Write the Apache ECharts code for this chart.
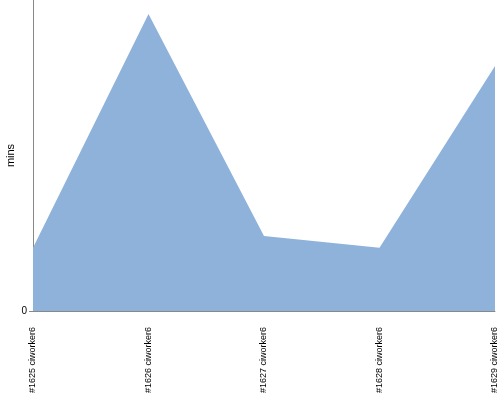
<!DOCTYPE html>
<html><head><meta charset="utf-8">
<script src="https://cdn.jsdelivr.net/npm/echarts@6/dist/echarts.min.js"></script>
<style>html,body{margin:0;padding:0;background:#fff}#c{width:500px;height:400px}</style>
</head><body><div id="c"></div>
<script>
var categories = ['#1625 ciworker6', '#1626 ciworker6', '#1627 ciworker6', '#1628 ciworker6', '#1629 ciworker6'];
var minsValues = [2.03, 9.55, 2.41, 2.03, 7.88];
var chart = echarts.init(document.getElementById('c'), null, {renderer: 'canvas'});
chart.setOption({
  animation: false,
  grid: {left: 33, right: 5, top: 0, bottom: 89, containLabel: false, outerBoundsMode: 'none'},
  xAxis: {
    type: 'category', data: categories, boundaryGap: false,
    axisLine: {lineStyle: {color: '#888', width: 1}},
    axisTick: {show: false},
    axisLabel: {rotate: 90, margin: 16, color: '#000', fontSize: 9, fontFamily: 'Liberation Sans', interval: 0}
  },
  yAxis: {
    type: 'value', min: 0, max: 10, interval: 10,
    name: 'mins', nameLocation: 'middle', nameGap: 17, nameRotate: 90, nameMoveOverlap: false,
    nameTextStyle: {color: '#000', fontSize: 11, fontFamily: 'Liberation Sans'},
    axisLine: {show: true, lineStyle: {color: '#888', width: 1}},
    axisTick: {show: true, length: 4, customValues: [0], lineStyle: {color: '#888'}},
    splitLine: {show: false},
    axisLabel: {color: '#000', fontSize: 10, fontFamily: 'Liberation Sans', margin: 6,
      formatter: function (v) { return v === 0 ? '0' : ''; }}
  },
  series: [{
    type: 'line', data: minsValues, symbol: 'none',
    lineStyle: {width: 0, color: '#8fb2db'},
    areaStyle: {color: '#8fb2db', opacity: 1}
  }]
});
</script></body></html>
